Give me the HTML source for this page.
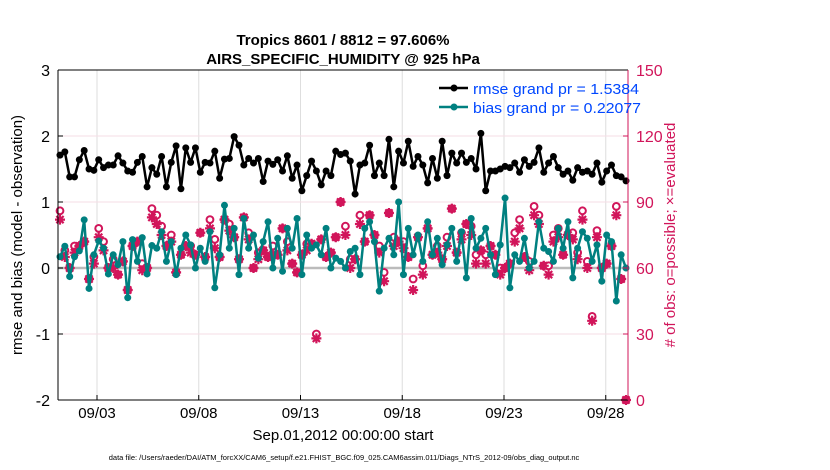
<!DOCTYPE html>
<html><head><meta charset="utf-8">
<style>
body{margin:0;background:#fff;}
svg{display:block;font-family:"Liberation Sans",sans-serif;}
</style></head>
<body>
<svg id="chart" width="830" height="470" viewBox="0 0 830 470">
<g id="grid"></g>
<g id="series"></g>
<g id="axes"></g>
<text x="343" y="45" text-anchor="middle" font-size="15" font-weight="bold">Tropics 8601 / 8812 = 97.606%</text>
<text x="343" y="64" text-anchor="middle" font-size="15" font-weight="bold">AIRS_SPECIFIC_HUMIDITY @ 925 hPa</text>
<text transform="translate(22,235) rotate(-90)" text-anchor="middle" font-size="15">rmse and bias (model - observation)</text>
<text fill="#d1155a" transform="translate(675,235) rotate(-90)" text-anchor="middle" font-size="15"># of obs: o=possible; ×=evaluated</text>
<text x="343" y="440" text-anchor="middle" font-size="15">Sep.01,2012 00:00:00 start</text>
<text x="344" y="460" text-anchor="middle" font-size="7.5">data file: /Users/raeder/DAI/ATM_forcXX/CAM6_setup/f.e21.FHIST_BGC.f09_025.CAM6assim.011/Diags_NTrS_2012-09/obs_diag_output.nc</text>
<g>
<line x1="439" y1="88" x2="468" y2="88" stroke="#000" stroke-width="2.5"/><circle cx="454" cy="88" r="3.5" fill="#000"/>
<text x="473" y="94" font-size="15" fill="#0047ff" textLength="166" lengthAdjust="spacingAndGlyphs">rmse grand pr = 1.5384</text>
<line x1="439" y1="107" x2="468" y2="107" stroke="#008080" stroke-width="2.5"/><circle cx="454" cy="107" r="3.5" fill="#008080"/>
<text x="473" y="113" font-size="15" fill="#0047ff" textLength="168" lengthAdjust="spacingAndGlyphs">bias grand pr = 0.22077</text>
</g>
</svg>
<script>
const xTickLabels=["09/03","09/08","09/13","09/18","09/23","09/28"];
const xTickDays=[2,7,12,17,22,27];
const yTicksLeft=[3,2,1,0,-1,-2];
const yTicksRight=[150,120,90,60,30,0];
const rmse=[1.71,1.76,1.38,1.38,1.64,1.78,1.50,1.48,1.64,1.52,1.56,1.56,1.70,1.59,1.47,1.45,1.60,1.69,1.23,1.52,1.42,1.69,1.23,1.60,1.85,1.20,1.82,1.60,1.82,1.45,1.60,1.59,1.77,1.36,1.65,1.66,1.99,1.86,1.56,
1.66,1.59,1.66,1.31,1.62,1.57,1.64,1.47,1.70,1.36,1.56,1.17,1.40,1.62,1.47,1.26,1.47,1.40,1.77,1.72,1.74,1.62,1.12,1.56,1.59,1.86,1.40,1.59,1.40,1.95,1.23,1.77,1.59,1.92,1.54,1.69,1.56,
1.29,1.66,1.36,1.92,1.40,1.74,1.59,1.74,1.60,1.66,1.50,2.04,1.17,1.47,1.47,1.50,1.54,1.52,1.59,1.45,1.64,1.54,1.60,1.82,1.45,1.59,1.69,1.52,1.42,1.47,1.33,1.52,1.45,1.47,1.42,1.59,1.30,1.47,1.56,1.40,1.38,1.32];
const bias=[0.17,0.33,-0.13,0.17,0.26,0.73,-0.31,0.2,0.41,0.3,
-0.09,0.2,0.05,0.4,-0.45,0.43,0.1,0.46,-0.09,0.34,
0.3,0.55,0.1,0.4,-0.1,0.3,0.5,0.35,0.0,0.3,
0.1,0.55,-0.3,0.2,0.95,0.3,0.6,-0.1,0.75,0.3,
0.5,0.15,0.4,0.7,0.0,0.45,-0.05,0.6,0.3,0.75,
-0.1,0.5,0.3,0.35,0.2,0.6,0.0,0.15,0.1,0.0,
0.25,0.3,-0.1,0.6,0.7,0.4,-0.35,0.3,0.45,0.2,
1.0,-0.1,0.6,0.2,0.5,0.1,0.7,0.2,0.45,0.05,
0.35,0.6,0.1,0.55,-0.15,0.75,0.3,0.45,0.6,0.2,
-0.1,0.35,1.06,-0.3,0.2,0.1,0.45,0.0,0.1,0.7,
0.3,0.25,0.1,0.6,0.3,0.7,-0.15,0.3,0.55,0.45,
0.1,0.35,-0.2,0.5,0.4,-0.5,0.2,0.0];
const nEvaluated=[82,65,60,67,70,72,55,62,74,68,
60,60,57,63,50,70,72,59,60,83,
80,75,70,72,58,66,70,67,66,76,
65,78,69,65,82,77,74,64,83,73,
60,64,68,65,66,66,78,68,62,58,
66,68,71,28,73,65,67,74,90,75,
60,64,80,72,84,75,67,54,85,70,
72,69,65,50,74,57,78,66,67,64,
70,87,67,73,80,75,62,68,62,70,
66,57,60,62,72,78,65,59,84,80,
61,57,72,74,66,75,73,64,82,60,
36,74,60,62,70,84,55,0];
const nPossible=[86,68,60,70,70,72,55,65,78,72,
60,64,57,63,50,70,72,62,60,87,
84,79,70,75,58,66,70,70,66,76,
65,82,73,65,82,80,74,64,83,76,
60,67,68,65,70,66,78,72,62,58,
66,71,71,30,73,65,67,74,90,79,
64,64,84,72,84,75,70,58,85,74,
72,72,65,55,74,61,78,66,70,64,
74,87,67,76,80,79,66,68,66,70,
66,60,60,62,76,82,65,63,88,84,
61,61,75,78,66,75,76,67,86,63,
38,77,60,62,70,88,55,0];

const NS='http://www.w3.org/2000/svg';
const X0=58,X1=628,Y0=70,Y1=400;
const DAY=20.35, XORG=56.3;
const xDay=d=>XORG+d*DAY;
const xIdx=i=>X0+2+i*((X1-X0-4)/(rmse.length-1));
const yL=v=>Y1-(v+2)*(Y1-Y0)/5;
const yR=c=>Y1-c*(Y1-Y0)/150;
function mk(tag,attrs,parent){const e=document.createElementNS(NS,tag);for(const k in attrs)e.setAttribute(k,attrs[k]);parent.appendChild(e);return e;}
const grid=document.getElementById('grid'),ser=document.getElementById('series'),axes=document.getElementById('axes');
mk('rect',{x:X0,y:Y0,width:X1-X0,height:Y1-Y0,fill:'#fff'},grid);
xTickDays.forEach((d,k)=>{
  const g=mk('line',{x1:xDay(d),x2:xDay(d),y1:Y0,y2:Y1,stroke:'#dedede','stroke-width':1},grid);
  
  
  mk('line',{x1:xDay(d),x2:xDay(d),y1:Y1,y2:Y1-5,stroke:'#000'},axes);
  const t=mk('text',{x:xDay(d),y:418,'text-anchor':'middle','font-size':15},axes);
  t.textContent=xTickLabels[k];
  
  
});
yTicksRight.forEach(c=>{
  const g=mk('line',{x1:X0,x2:X1,y1:yR(c),y2:yR(c),stroke:'#f5dde5','stroke-width':1},grid);
  
  
});
mk('line',{x1:X0,x2:X1,y1:yL(0),y2:yL(0),stroke:'#bbb','stroke-width':2.5},grid);
yTicksLeft.forEach(v=>{
  mk('line',{x1:X0,x2:X0+5,y1:yL(v),y2:yL(v),stroke:'#000'},axes);
  const t=mk('text',{x:50,y:yL(v)+6,'text-anchor':'end','font-size':16},axes);
  t.textContent=v;
  
  
});
yTicksRight.forEach(c=>{
  mk('line',{x1:X1-5,x2:X1,y1:yR(c),y2:yR(c),stroke:'#d1155a'},axes);
  const t=mk('text',{x:636,y:yR(c)+6,'text-anchor':'start','font-size':16,fill:'#d1155a'},axes);
  t.textContent=c;
  
  
});
mk('line',{x1:X0,x2:X1,y1:Y0,y2:Y0,stroke:'#000'},axes);
mk('line',{x1:X0,x2:X1,y1:Y1,y2:Y1,stroke:'#000'},axes);
mk('line',{x1:X0,x2:X0,y1:Y0,y2:Y1,stroke:'#000'},axes);
mk('line',{x1:X1,x2:X1,y1:Y0,y2:Y1,stroke:'#d1155a'},axes);

const pink='#d1155a';
nPossible.forEach((c,i)=>{
  const o=mk('circle',{cx:xIdx(i),cy:yR(c),r:3.4,fill:'#fff',stroke:pink,'stroke-width':2},ser);
  
  
});
nEvaluated.forEach((c,i)=>{
  const x=xIdx(i),y=yR(c),s=5;
  const p=mk('path',{d:`M${x-s} ${y}H${x+s}M${x} ${y-s}V${y+s}M${x-3.6} ${y-3.6}L${x+3.6} ${y+3.6}M${x-3.6} ${y+3.6}L${x+3.6} ${y-3.6}`,stroke:pink,'stroke-width':2.2},ser);
  
  
});
function line(vals,color,name){
  const pl=mk('polyline',{points:vals.map((v,i)=>xIdx(i)+','+yL(v)).join(' '),fill:'none',stroke:color,'stroke-width':2.5,'stroke-linejoin':'round'},ser);
  
  
  vals.forEach((v,i)=>{
    const c=mk('circle',{cx:xIdx(i),cy:yL(v),r:3.5,fill:color},ser);
    
    
  });
}
line(bias,'#008080','bias');
line(rmse,'#000000','rmse');
</script>
</body></html>
